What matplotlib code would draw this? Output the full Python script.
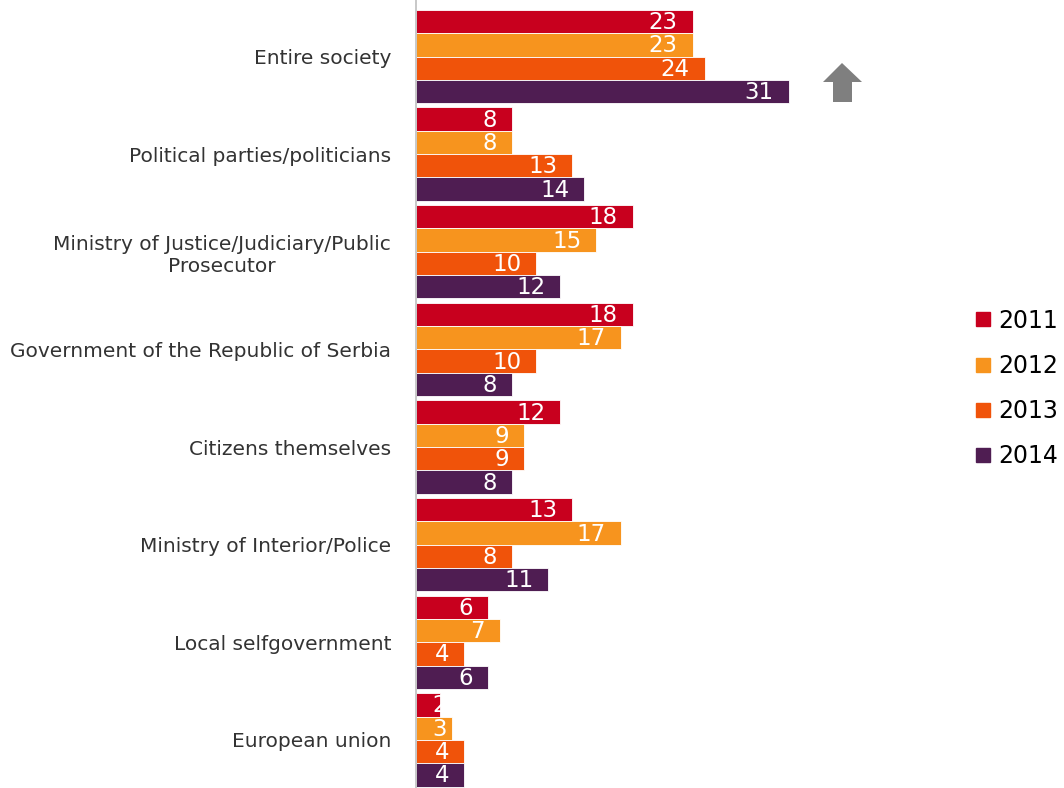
import matplotlib
matplotlib.use('Agg')
import matplotlib.pyplot as plt
from matplotlib.lines import Line2D
from matplotlib.patches import Polygon

# Who is responsible for fighting corruption (%), by survey year
categories = ['Entire society', 'Political parties/politicians',
              'Ministry of Justice/Judiciary/Public\nProsecutor',
              'Government of the Republic of Serbia', 'Citizens themselves',
              'Ministry of Interior/Police', 'Local selfgovernment', 'European union']
years = ['2011', '2012', '2013', '2014']
v2011 = [23, 8, 18, 18, 12, 13, 6, 2]
v2012 = [23, 8, 15, 17, 9, 17, 7, 3]
v2013 = [24, 13, 10, 10, 9, 8, 4, 4]
v2014 = [31, 14, 12, 8, 8, 11, 6, 4]
series = [v2011, v2012, v2013, v2014]
colors = ['#C8001E', '#F7941E', '#F0530A', '#4F1D52']

W, H = 1064, 788
fig = plt.figure(figsize=(W / 100, H / 100), dpi=100)
x0, x1 = 416, 900
ax = fig.add_axes([x0 / W, 0, (x1 - x0) / W, 1])
px = 12.03  # pixels per percent
ax.set_xlim(0, (x1 - x0) / px)

bh = 0.239
pitch = 97.6
ax.set_ylim(7 + (H - 740) / pitch, -56.5 / pitch)

for k, vals in enumerate(series):
    for i, v in enumerate(vals):
        y = i + (k - 1.5) * bh
        ax.barh(y, v, height=bh, color=colors[k], edgecolor='white', linewidth=0.6)
        ax.text(max(v - 1.25, 2.6), y + 0.01, str(v), ha='right', va='center',
                color='white', fontsize=16.5, family='DejaVu Sans')

ax.set_yticks(range(len(categories)))
ax.set_yticklabels(categories, fontsize=14.5, color='#333333')
for lab in ax.get_yticklabels():
    lab.set_multialignment('center')
ax.tick_params(axis='y', length=0, pad=18)
ax.set_xticks([])
for s in ['top', 'right', 'bottom']:
    ax.spines[s].set_visible(False)
ax.spines['left'].set_color('#bfbfbf')
ax.spines['left'].set_linewidth(1.2)

# up arrow next to the top group
arrow = [(842, 63), (862, 82), (852, 82), (852, 102), (833, 102), (833, 82), (823, 82)]
fig.patches.append(Polygon([(x / W, 1 - y / H) for x, y in arrow], closed=True,
                           facecolor='#7f7f7f', edgecolor='none',
                           transform=fig.transFigure))

handles = [Line2D([], [], marker='s', linestyle='none', markersize=10,
                  markerfacecolor=c, markeredgecolor=c) for c in colors]
fig.legend(handles, years, loc='center left', bbox_to_anchor=(975 / W, 1 - 388.5 / H),
           frameon=False, fontsize=17, labelspacing=0.9, handlelength=0.7,
           handletextpad=0.28, borderpad=0, borderaxespad=0)

fig.savefig('out.png', dpi=100)
